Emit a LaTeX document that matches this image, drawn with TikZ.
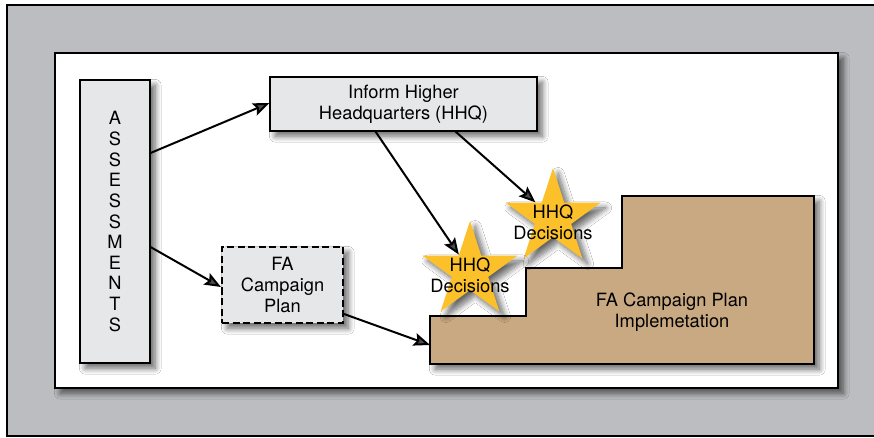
\documentclass[tikz,border=0pt]{standalone}
\usepackage{fontspec}
\setmainfont{TeX Gyre Heros}
\usepackage{tikz}
\usetikzlibrary{arrows.meta}
\usetikzlibrary{shapes.geometric}
\usetikzlibrary{shadows.blur}
\usetikzlibrary{calc}

\definecolor{framegray}{HTML}{BCBDC1}
\definecolor{boxgray}{HTML}{E6E7E8}
\definecolor{stargold}{HTML}{FCC12A}
\definecolor{stairtan}{HTML}{C8A982}

\tikzset{
    softshadow/.style={blur shadow={shadow xshift=4.5pt, shadow yshift=-4.5pt, shadow blur radius=5pt, shadow blur steps=10, shadow opacity=60}},
    infobox/.style={draw, line width=0.9pt, fill=boxgray, inner sep=0pt, softshadow},
    hhqstar/.style={star, star points=5, star point ratio=2.618, minimum size=3cm, inner sep=0pt, fill=stargold, softshadow},
    flow/.style={line width=1.7pt, -{Stealth[length=14pt, width=11pt, inset=2.5pt]}},
    txt/.style={align=center, font=\fontsize{15.6}{17.6}\selectfont}
}

\begin{document}
\begin{tikzpicture}[x=0.03cm, y=-0.03cm]
        \useasboundingbox (0,0) rectangle (874,437);
        \draw[fill=framegray, line width=0.9pt] (7,5) rectangle (880,436);
        \draw[fill=white, line width=0.9pt, softshadow] (55,53) rectangle (838,388);

        \node[infobox, minimum width=2.1cm, minimum height=8.49cm, txt] (assess) at (115,221.5)
            {A\\S\\S\\E\\S\\S\\M\\E\\N\\T\\S};
        \node[infobox, minimum width=8.01cm, minimum height=1.62cm, txt] (inform) at (403.5,104)
            {Inform Higher\\Headquarters (HHQ)};
        \node[infobox, dash pattern=on 6pt off 3pt, line width=1.8pt, minimum width=3.63cm, minimum height=2.28cm, txt] (faplan) at (282.5,285)
            {FA\\Campaign\\Plan};

        % stair shaped implementation block
        \draw[fill=stairtan, line width=0.9pt, softshadow] (430,364) -- (430,316) -- (526,316) -- (526,268)
            -- (622,268) -- (622,196) -- (814,196) -- (814,364) -- cycle;
        \node[txt] (implement) at (672,312) {FA Campaign Plan\\Implemetation};
        \coordinate (stairin) at (430,345);

        \node[hhqstar] (dec2) at (553,218) {};
        \node[txt] (dec2txt) at (553,222) {HHQ\\Decisions};
        \node[hhqstar] (dec1) at (470,271) {};
        \node[txt] (dec1txt) at (470,275) {HHQ\\Decisions};

        \draw[flow] (assess.east |- 0,153) -- (inform.west |- 0,103);
        \draw[flow] (assess.east |- 0,247) -- (faplan.west |- 0,287);
        \draw[flow] ($(inform.south)+(-28,0)$) -- (dec1);
        \draw[flow] ($(inform.south)+(52,0)$) -- (dec2);
        \draw[flow] (faplan.east |- 0,314) -- (stairin);
    \end{tikzpicture}
\end{document}
